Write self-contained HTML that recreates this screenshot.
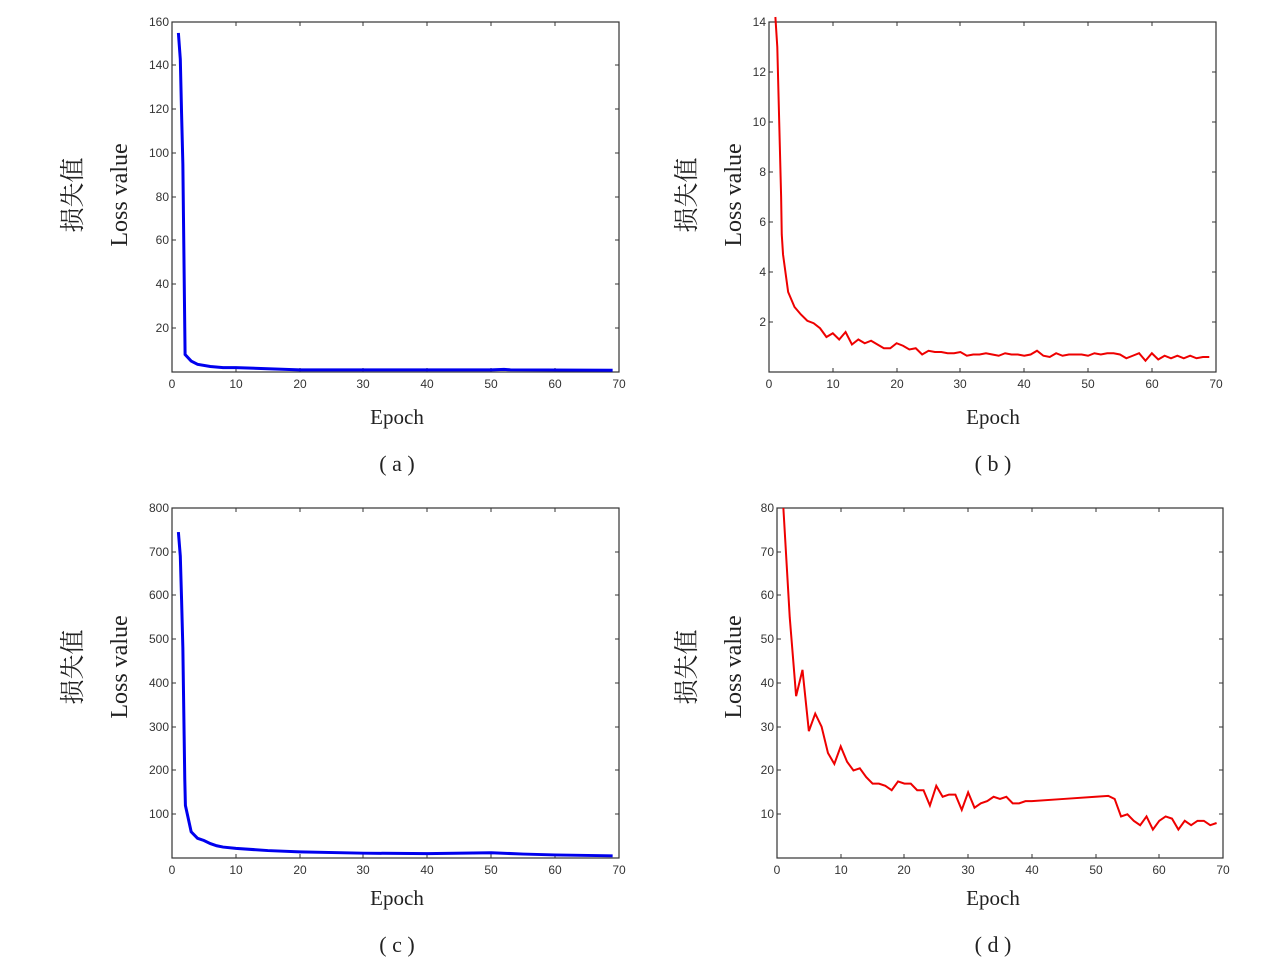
<!DOCTYPE html>
<html><head><meta charset="utf-8"><style>
body{margin:0;background:#fff;}
svg{display:block}
.t{font-family:"Liberation Sans",Arial,sans-serif;font-size:12px;fill:#333}
.s{font-family:"Liberation Serif","Noto Serif CJK SC",serif;font-size:21px;fill:#222}
.l{font-family:"Liberation Serif",serif;font-size:24px;fill:#222}
.z{font-family:"Liberation Serif","Noto Serif CJK SC",serif;font-size:25px;fill:#222}
.c{font-family:"Liberation Serif","Noto Serif CJK SC",serif;font-size:22px;fill:#222}
</style></head><body>
<svg width="1269" height="965" viewBox="0 0 1269 965" xmlns="http://www.w3.org/2000/svg">
<g fill="none" stroke="#333" stroke-width="1.2">
<rect x="172" y="22" width="447" height="350"/>
<rect x="769" y="22" width="447" height="350"/>
<rect x="172" y="508" width="447" height="350"/>
<rect x="777" y="508" width="446" height="350"/>
</g>
<g stroke="#333" stroke-width="1">
<path d="M236,372v-4M300,372v-4M363,372v-4M427,372v-4M491,372v-4M555,372v-4M236,22v4M300,22v4M363,22v4M427,22v4M491,22v4M555,22v4
M172,328h4M172,284h4M172,240h4M172,197h4M172,153h4M172,109h4M172,65h4M619,328h-4M619,284h-4M619,240h-4M619,197h-4M619,153h-4M619,109h-4M619,65h-4"/>
<path d="M833,372v-4M897,372v-4M960,372v-4M1024,372v-4M1088,372v-4M1152,372v-4M833,22v4M897,22v4M960,22v4M1024,22v4M1088,22v4M1152,22v4
M769,322h4M769,272h4M769,222h4M769,172h4M769,122h4M769,72h4M1216,322h-4M1216,272h-4M1216,222h-4M1216,172h-4M1216,122h-4M1216,72h-4"/>
<path d="M236,858v-4M300,858v-4M363,858v-4M427,858v-4M491,858v-4M555,858v-4M236,508v4M300,508v4M363,508v4M427,508v4M491,508v4M555,508v4
M172,814h4M172,770h4M172,727h4M172,683h4M172,639h4M172,595h4M172,552h4M619,814h-4M619,770h-4M619,727h-4M619,683h-4M619,639h-4M619,595h-4M619,552h-4"/>
<path d="M841,858v-4M904,858v-4M968,858v-4M1032,858v-4M1096,858v-4M1159,858v-4M841,508v4M904,508v4M968,508v4M1032,508v4M1096,508v4M1159,508v4
M777,814h4M777,770h4M777,727h4M777,683h4M777,639h4M777,595h4M777,552h4M1223,814h-4M1223,770h-4M1223,727h-4M1223,683h-4M1223,639h-4M1223,595h-4M1223,552h-4"/>
</g>
<g transform="translate(172,372) scale(6.386,-2.1875)">
<polyline fill="none" stroke="#0000ee" stroke-width="3" vector-effect="non-scaling-stroke" points="1,155 1.3,143 1.5,118 1.7,95 1.8,70 1.9,45 2,20 2.05,8 3,5 4,3.5 6,2.5 8,2 10,2 15,1.5 20,1 30,1 50,1 52,1.2 53,1 69,0.8"/>
</g>
<g transform="translate(769,372) scale(6.381,-25)">
<polyline fill="none" stroke="#ee0000" stroke-width="2" vector-effect="non-scaling-stroke" points="1,14.2 1.3,13 1.5,11 1.7,9 1.9,7 2,5.5 2.2,4.7 3,3.2 4,2.6 5,2.3 6,2.05 7,1.95 8,1.75 9,1.4 10,1.55 11,1.3 12,1.6 13,1.1 14,1.3 15,1.15 16,1.25 17,1.1 18,0.95 19,0.95 20,1.15 21,1.05 22,0.9 23,0.95 24,0.7 25,0.85 26,0.8 27,0.8 28,0.75 29,0.75 30,0.8 31,0.65 32,0.7 33,0.7 34,0.75 35,0.7 36,0.65 37,0.75 38,0.7 39,0.7 40,0.65 41,0.7 42,0.85 43,0.65 44,0.6 45,0.75 46,0.65 47,0.7 48,0.7 49,0.7 50,0.65 51,0.75 52,0.7 53,0.75 54,0.75 55,0.7 56,0.55 57,0.65 58,0.75 59,0.45 60,0.75 61,0.5 62,0.65 63,0.55 64,0.65 65,0.55 66,0.65 67,0.55 68,0.6 69,0.6"/>
</g>
<g transform="translate(172,858) scale(6.386,-0.4375)">
<polyline fill="none" stroke="#0000ee" stroke-width="3" vector-effect="non-scaling-stroke" points="1,745 1.3,690 1.5,590 1.7,480 1.8,380 1.9,280 2,180 2.1,120 3,60 4,45 5,40 6,33 7,28 8,25 10,22 15,17 20,14 30,11 40,10 50,12 55,9 60,7 69,5"/>
</g>
<g transform="translate(777,858) scale(6.371,-4.375)">
<polyline fill="none" stroke="#ee0000" stroke-width="2" vector-effect="non-scaling-stroke" points="1,80 2,55 3,37 4,43 5,29 6,33 7,30 8,24 9,21.5 10,25.5 11,22 12,20 13,20.5 14,18.5 15,17 16,17 17,16.5 18,15.5 19,17.5 20,17 21,17 22,15.5 23,15.5 24,12 25,16.5 26,14 27,14.5 28,14.5 29,11 30,15 31,11.5 32,12.5 33,13 34,14 35,13.5 36,14 37,12.5 38,12.5 39,13 40,13 45,13.5 50,14 52,14.2 53,13.5 54,9.5 55,10 56,8.5 57,7.5 58,9.5 59,6.5 60,8.5 61,9.5 62,9 63,6.5 64,8.5 65,7.5 66,8.5 67,8.5 68,7.5 69,8"/>
</g>
<g class="t" text-anchor="end">
<text x="169" y="26">160</text><text x="169" y="69">140</text><text x="169" y="113">120</text><text x="169" y="157">100</text><text x="169" y="201">80</text><text x="169" y="244">60</text><text x="169" y="288">40</text><text x="169" y="332">20</text>
<text x="766" y="26">14</text><text x="766" y="76">12</text><text x="766" y="126">10</text><text x="766" y="176">8</text><text x="766" y="226">6</text><text x="766" y="276">4</text><text x="766" y="326">2</text>
<text x="169" y="512">800</text><text x="169" y="556">700</text><text x="169" y="599">600</text><text x="169" y="643">500</text><text x="169" y="687">400</text><text x="169" y="731">300</text><text x="169" y="774">200</text><text x="169" y="818">100</text>
<text x="774" y="512">80</text><text x="774" y="556">70</text><text x="774" y="599">60</text><text x="774" y="643">50</text><text x="774" y="687">40</text><text x="774" y="731">30</text><text x="774" y="774">20</text><text x="774" y="818">10</text>
</g>
<g class="t" text-anchor="middle">
<text x="172" y="388">0</text><text x="236" y="388">10</text><text x="300" y="388">20</text><text x="363" y="388">30</text><text x="427" y="388">40</text><text x="491" y="388">50</text><text x="555" y="388">60</text><text x="619" y="388">70</text>
<text x="769" y="388">0</text><text x="833" y="388">10</text><text x="897" y="388">20</text><text x="960" y="388">30</text><text x="1024" y="388">40</text><text x="1088" y="388">50</text><text x="1152" y="388">60</text><text x="1216" y="388">70</text>
<text x="172" y="874">0</text><text x="236" y="874">10</text><text x="300" y="874">20</text><text x="363" y="874">30</text><text x="427" y="874">40</text><text x="491" y="874">50</text><text x="555" y="874">60</text><text x="619" y="874">70</text>
<text x="777" y="874">0</text><text x="841" y="874">10</text><text x="904" y="874">20</text><text x="968" y="874">30</text><text x="1032" y="874">40</text><text x="1096" y="874">50</text><text x="1159" y="874">60</text><text x="1223" y="874">70</text>
</g>
<g class="s" text-anchor="middle">
<text x="397" y="424">Epoch</text><text x="993" y="424">Epoch</text>
<text x="397" y="905">Epoch</text><text x="993" y="905">Epoch</text>
</g>
<g class="l" text-anchor="middle">
<text transform="translate(127,195) rotate(-90)">Loss value</text>
<text transform="translate(741,195) rotate(-90)">Loss value</text>
<text transform="translate(127,667) rotate(-90)">Loss value</text>
<text transform="translate(741,667) rotate(-90)">Loss value</text>
</g>
<g class="z" text-anchor="middle">
<text transform="translate(81,195) rotate(-90)">损失值</text>
<text transform="translate(695,195) rotate(-90)">损失值</text>
<text transform="translate(81,667) rotate(-90)">损失值</text>
<text transform="translate(695,667) rotate(-90)">损失值</text>
</g>
<g class="c" text-anchor="middle">
<text x="397" y="471">( a )</text><text x="993" y="471">( b )</text>
<text x="397" y="952">( c )</text><text x="993" y="952">( d )</text>
</g>
</svg>
</body></html>
